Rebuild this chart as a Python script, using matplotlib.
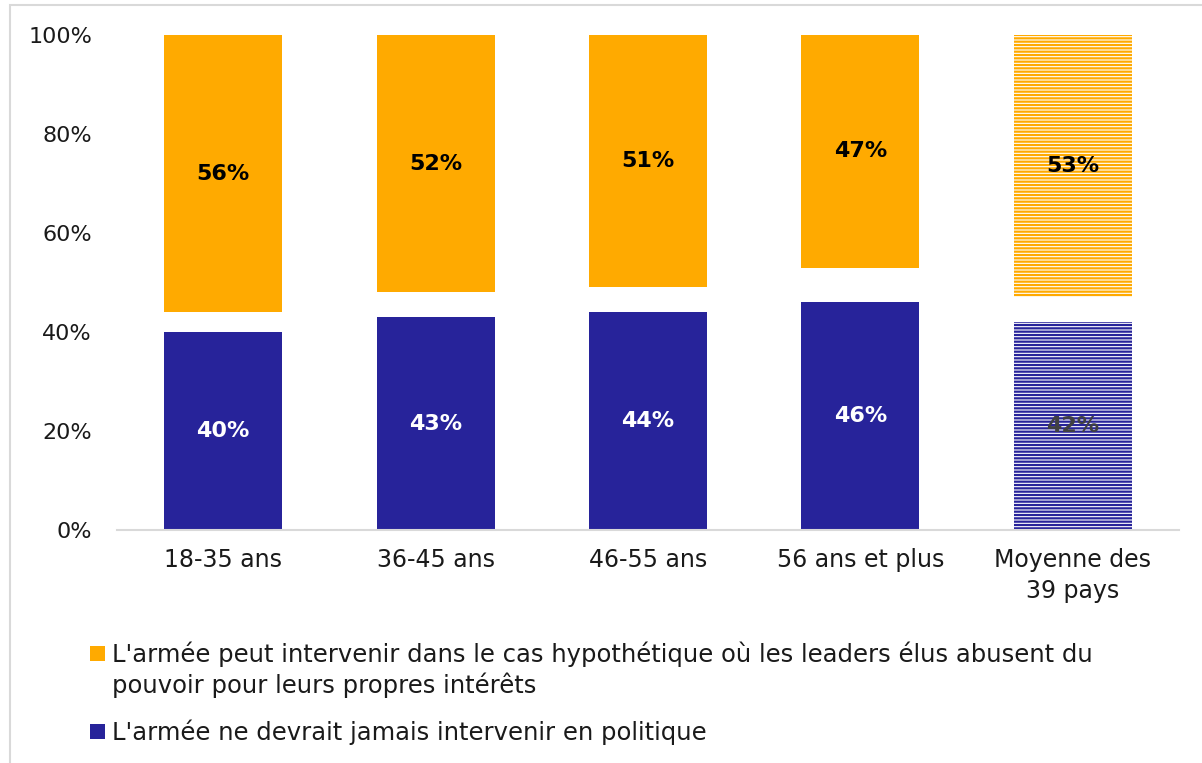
import matplotlib
matplotlib.use("Agg")
import matplotlib.pyplot as plt
from matplotlib.patches import Rectangle

plt.rcParams['font.family'] = ['DejaVu Sans']
plt.rcParams['hatch.linewidth'] = 1.6

categories = ["18-35 ans", "36-45 ans", "46-55 ans", "56 ans et plus", "Moyenne des\n39 pays"]
jamais = [40, 43, 44, 46, 42]
peut = [56, 52, 51, 47, 53]
moyenne = [False, False, False, False, True]

label_peut = ("L'armée peut intervenir dans le cas hypothétique où les leaders élus abusent du\n"
              "pouvoir pour leurs propres intérêts")
label_jamais = "L'armée ne devrait jamais intervenir en politique"

ORANGE = "#FFAA00"
BLUE = "#27239A"
TEXT = "#1a1a1a"

W, H = 1202, 763
fig = plt.figure(figsize=(W / 100, H / 100), dpi=100)
ax = fig.add_axes([117 / W, 1 - 530 / H, 1062 / W, 495 / H])

x = list(range(len(categories)))
width = 0.555
for i in x:
    top_bottom = 100 - peut[i]
    if moyenne[i]:
        # average of all countries: striped bars
        ax.bar(i, jamais[i], width, color="white", edgecolor=BLUE, linewidth=0, hatch="-----")
        ax.bar(i, peut[i], width, bottom=top_bottom, color="white", edgecolor=ORANGE,
               linewidth=0, hatch="-----")
        c_low = "#404040"
    else:
        ax.bar(i, jamais[i], width, color=BLUE, linewidth=0)
        ax.bar(i, peut[i], width, bottom=top_bottom, color=ORANGE, linewidth=0)
        c_low = "white"
    ax.text(i, jamais[i] / 2, f"{jamais[i]}%", ha="center", va="center",
            fontsize=16, fontweight="bold", color=c_low)
    ax.text(i, top_bottom + peut[i] / 2, f"{peut[i]}%", ha="center", va="center",
            fontsize=16, fontweight="bold", color="black")

ax.set_xlim(-0.5, len(categories) - 0.5)
ax.set_ylim(0, 100)
ax.set_yticks(range(0, 101, 20))
ax.set_yticklabels([f"{v}%" for v in range(0, 101, 20)])
ax.set_xticks(x)
ax.set_xticklabels(categories, linespacing=1.35)
ax.tick_params(axis="y", length=0, pad=18, labelsize=16, labelcolor=TEXT)
ax.tick_params(axis="x", length=0, pad=13, labelsize=17, labelcolor=TEXT)
for side in ["top", "right", "left"]:
    ax.spines[side].set_visible(False)
ax.spines["bottom"].set_color("#d9d9d9")
ax.spines["bottom"].set_linewidth(1.5)

# legend: square key next to the first line of each label
line_px = 31
for color, label, y_base in [(ORANGE, label_peut, 662), (BLUE, label_jamais, 740)]:
    n_lines = label.count("\n") + 1
    fig.patches.append(Rectangle((90 / W, 1 - (y_base - 1) / H), 15 / W, 15 / H,
                                 transform=fig.transFigure, facecolor=color,
                                 edgecolor="none"))
    fig.text(112 / W, 1 - (y_base + (n_lines - 1) * line_px) / H, label,
             ha="left", va="baseline", fontsize=17.5, color=TEXT, linespacing=1.27)

# chart border, partly cut off on the right and bottom
fig.patches.append(Rectangle((10 / W, -0.05), 1.1, 1 - 5 / H + 0.05,
                             transform=fig.transFigure, fill=False,
                             edgecolor="#d9d9d9", linewidth=1.5))

fig.savefig("out.png", dpi=100)
